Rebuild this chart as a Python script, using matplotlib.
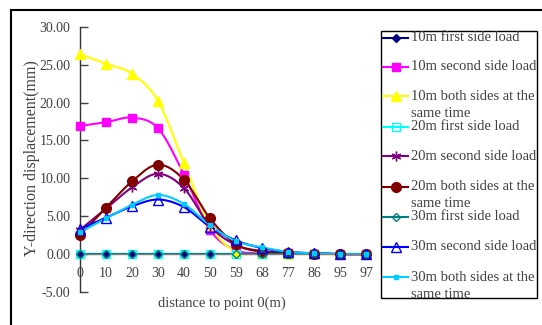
import numpy as np
import matplotlib
matplotlib.use("Agg")
import matplotlib.pyplot as plt
from matplotlib.lines import Line2D
from matplotlib.patches import Rectangle
from matplotlib.transforms import Bbox

plt.rcParams['font.family'] = ['Liberation Serif', 'DejaVu Serif']

categories = ["0", "10", "20", "30", "40", "50", "59", "68", "77", "86", "95", "97"]
series_names = [
    "10m first side load",
    "10m second side load",
    "10m both sides at the\nsame time",
    "20m first side load",
    "20m second side load",
    "20m both sides at the\nsame time",
    "30m first side load",
    "30m second side load",
    "30m both sides at the\nsame time",
]
s10_first = [0, 0, 0, 0, 0, 0, 0, 0, 0, 0, 0, 0]
s10_second = [16.9, 17.4, 18.0, 16.6, 10.5, 3.2, 0.5, 0.15, 0.1, 0.05, 0.0, 0.0]
s10_both = [26.4, 25.1, 23.8, 20.2, 12.0, 3.8, 0.3, 0.1, 0.05, 0.0, 0.0, 0.0]
s20_first = [0, 0, 0, 0, 0, 0, 0, 0, 0, 0, 0, 0]
s20_second = [3.2, 6.0, 8.8, 10.6, 8.7, 3.7, 1.2, 0.4, 0.2, 0.1, 0.0, 0.0]
s20_both = [2.5, 6.1, 9.6, 11.8, 9.8, 4.7, 1.3, 0.3, 0.1, 0.05, 0.0, 0.0]
s30_first = [0, 0, 0, 0, 0, 0, 0, 0, 0, 0, 0, 0]
s30_second = [3.3, 4.8, 6.3, 7.2, 6.2, 3.6, 1.8, 0.8, 0.3, 0.1, 0.0, 0.0]
s30_both = [2.9, 4.7, 6.5, 7.8, 6.6, 3.8, 1.7, 0.9, 0.3, 0.1, 0.0, 0.0]

series = [s10_first, s10_second, s10_both, s20_first, s20_second,
          s20_both, s30_first, s30_second, s30_both]

styles = [
    dict(color='#000080', marker='D', ms=4, mfc='#000080'),
    dict(color='#FF00FF', marker='s', ms=6, mfc='#FF00FF'),
    dict(color='#FFFF00', marker='^', ms=7, mfc='#FFFF00'),
    dict(color='#00FFFF', marker='s', ms=6, mfc='none'),
    dict(color='#800080', marker=(6, 2, 0), ms=7, mfc='#800080'),
    dict(color='#800000', marker='o', ms=7, mfc='#800000'),
    dict(color='#008080', marker='D', ms=4, mfc='none'),
    dict(color='#0000FF', marker='^', ms=7, mfc='none'),
    dict(color='#00CCFF', marker='s', ms=3.5, mfc='#00CCFF'),
]


def smooth(xs, ys, n=20):
    xs = np.asarray(xs, float)
    ys = np.asarray(ys, float)
    px = np.concatenate([[2 * xs[0] - xs[1]], xs, [2 * xs[-1] - xs[-2]]])
    py = np.concatenate([[2 * ys[0] - ys[1]], ys, [2 * ys[-1] - ys[-2]]])
    outx, outy = [], []
    t = np.linspace(0, 1, n, endpoint=False)
    for i in range(1, len(px) - 2):
        for p, out in ((px, outx), (py, outy)):
            p0, p1, p2, p3 = p[i - 1], p[i], p[i + 1], p[i + 2]
            out.extend(0.5 * ((2 * p1) + (-p0 + p2) * t
                              + (2 * p0 - 5 * p1 + 4 * p2 - p3) * t ** 2
                              + (-p0 + 3 * p1 - 3 * p2 + p3) * t ** 3))
    outx.append(xs[-1])
    outy.append(ys[-1])
    return np.array(outx), np.array(outy)


W, H = 542, 325
fig = plt.figure(figsize=(W / 100, H / 100), dpi=100)
ax_l, ax_r, ax_t, ax_b = 80, 366, 26.7, 292
ax = fig.add_axes([ax_l / W, 1 - ax_b / H, (ax_r - ax_l) / W, (ax_b - ax_t) / H])

TXT = '#404040'
FS = 10

x = np.arange(len(categories))
for ys, st in zip(series, styles):
    sx, sy = smooth(x, ys)
    ax.plot(sx, sy, color=st['color'], lw=1.5, zorder=2, clip_on=False)
for ys, st in zip(series, styles):
    ax.plot(x, ys, ls='none', marker=st['marker'], ms=st['ms'],
            mfc=st['mfc'], mec=st['color'], mew=1.0, zorder=3, clip_on=False)

ax.set_xlim(0, 11)
ax.set_ylim(-5, 30)
ax.set_yticks(np.arange(-5, 31, 5))
ax.set_yticklabels([f"{v:.2f}" for v in np.arange(-5, 31, 5)])
ax.tick_params(axis='y', direction='in', length=6, width=1, pad=7,
               labelsize=FS, colors=TXT)
ax.set_xticks(x)
ax.set_xticklabels(categories)
ax.tick_params(axis='x', length=0, pad=9, labelsize=FS, colors=TXT)
for s in ['top', 'right']:
    ax.spines[s].set_visible(False)
ax.spines['bottom'].set_position(('data', 0))
ax.spines['bottom'].set_color('#808080')
ax.spines['left'].set_color('#333333')
ax.spines['left'].set_linewidth(1.0)
ax.patch.set_visible(False)

fig.text(222 / W, 1 - 303 / H, "distance to point 0(m)", ha='center', va='center',
         fontsize=FS + 0.5, color=TXT)
fig.text(32 / W, 1 - 158 / H, "Y-direction displacement(mm)", ha='center', va='center',
         rotation=90, fontsize=11.5, color=TXT)

# outer chart border
fig.add_artist(Line2D([11 / W, 11 / W], [1 - 10 / H, 0], transform=fig.transFigure,
                      color='black', lw=1.5))
fig.add_artist(Line2D([11 / W, 1], [1 - 10 / H, 1 - 10 / H], transform=fig.transFigure,
                      color='black', lw=1.5))

# legend
lx0, lx1, ly0, ly1 = 381, 537, 31, 298
fig.add_artist(Rectangle((lx0 / W, 1 - ly1 / H), (lx1 - lx0) / W, (ly1 - ly0) / H,
                         transform=fig.transFigure, fill=False, ec='black', lw=1.0))
clip = Bbox.from_extents(lx0, H - ly1, lx1, H - ly0)
ys_leg = [37.5, 66.5, 96.3, 126.5, 156.3, 186.7, 216.7, 247, 277.3]
for name, st, yy in zip(series_names, styles, ys_leg):
    fy = 1 - yy / H
    fig.add_artist(Line2D([383 / W, 408 / W], [fy, fy], transform=fig.transFigure,
                          color=st['color'], lw=1.5))
    fig.add_artist(Line2D([395.5 / W], [fy], transform=fig.transFigure, ls='none',
                          marker=st['marker'], ms=st['ms'], mfc=st['mfc'],
                          mec=st['color'], mew=1.0))
    for k, line in enumerate(name.split("\n")):
        t = fig.text(411 / W, 1 - (yy + 17 * k) / H, line, ha='left', va='center',
                     fontsize=FS + 0.5, color=TXT)
        if k > 0:
            t.set_clip_box(clip)
            t.set_clip_on(True)

fig.savefig("out.png", dpi=100)
